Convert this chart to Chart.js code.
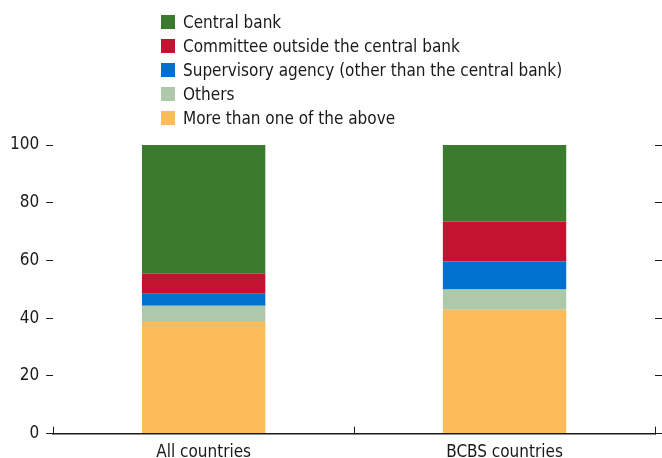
<!DOCTYPE html>
<html>
<head>
<meta charset="utf-8">
<script src="https://cdn.jsdelivr.net/npm/chart.js@4/dist/chart.umd.min.js"></script>
<style>
  body { margin: 0; overflow: hidden; background: #fff; }
  #wrap { position: absolute; left: 0; top: 0; width: 662px; height: 485px; }
  #legend { position: absolute; left: 161px; top: 10px; margin: 0; padding: 0; list-style: none;
    font-family: 'Liberation Sans Narrow', 'Arial Narrow', 'DejaVu Sans Condensed', sans-serif;
    font-size: 17px; color: #1a1a1a; }
  #legend li { height: 24.1px; line-height: 24.1px; white-space: nowrap; }
  #legend span.box { display: inline-block; width: 14px; height: 14px; margin-right: 8px; vertical-align: -1px; }
</style>
</head>
<body>
<div id="wrap"><canvas id="chart"></canvas></div>
<ul id="legend"></ul>
<script>
var categories = ['All countries', 'BCBS countries'];
var moreThanOne = [38.7, 42.9];
var others = [5.6, 7.0];
var supervisory = [4.2, 9.7];
var committee = [6.9, 13.9];
var centralBank = [44.6, 26.5];
var yTicks = [0, 20, 40, 60, 80, 100];

var FONT = "'Liberation Sans Narrow', 'Arial Narrow', 'DejaVu Sans Condensed', sans-serif";
var TEXT = '#1a1a1a';

function ds(label, data, color) {
  return { label: label, data: data, backgroundColor: color, borderWidth: 0,
    categoryPercentage: 1, barPercentage: 0.41, stack: 's' };
}

var chart = new Chart(document.getElementById('chart').getContext('2d'), {
  type: 'bar',
  data: {
    labels: categories,
    datasets: [
      ds('More than one of the above', moreThanOne, '#fcbc59'),
      ds('Others', others, '#aec9aa'),
      ds('Supervisory agency (other than the central bank)', supervisory, '#0071ce'),
      ds('Committee outside the central bank', committee, '#c41331'),
      ds('Central bank', centralBank, '#3a7b2d')
    ]
  },
  options: {
    responsive: true,
    maintainAspectRatio: false,
    animation: false,
    layout: { padding: { top: 145, left: 3, right: 0, bottom: 6 } },
    plugins: { legend: { display: false }, tooltip: { enabled: false } },
    scales: {
      x: {
        stacked: true,
        grid: { offset: true, drawOnChartArea: false, tickLength: -7, color: TEXT, lineWidth: 1 },
        border: { display: true, color: TEXT, width: 1.5 },
        ticks: { color: TEXT, font: { family: FONT, size: 17 }, padding: 16 }
      },
      y: {
        stacked: true,
        min: 0, max: 100,
        afterBuildTicks: function(axis) { axis.ticks = yTicks.map(function(v) { return { value: v }; }); },
        grid: { drawOnChartArea: false, tickLength: 7, color: TEXT },
        border: { display: false },
        ticks: { color: TEXT, font: { family: FONT, size: 17 }, padding: 7 }
      },
      y2: {
        position: 'right',
        min: 0, max: 100,
        afterBuildTicks: function(axis) { axis.ticks = yTicks.map(function(v) { return { value: v }; }); },
        grid: { drawOnChartArea: false, tickLength: 7, color: TEXT },
        border: { display: false },
        ticks: { display: false }
      }
    }
  }
});

// legend in html, top of stack first
var ul = document.getElementById('legend');
chart.data.datasets.slice().reverse().forEach(function(d) {
  var li = document.createElement('li');
  li.innerHTML = '<span class="box" style="background:' + d.backgroundColor + '"></span>' + d.label;
  ul.appendChild(li);
});
</script>
</body>
</html>
